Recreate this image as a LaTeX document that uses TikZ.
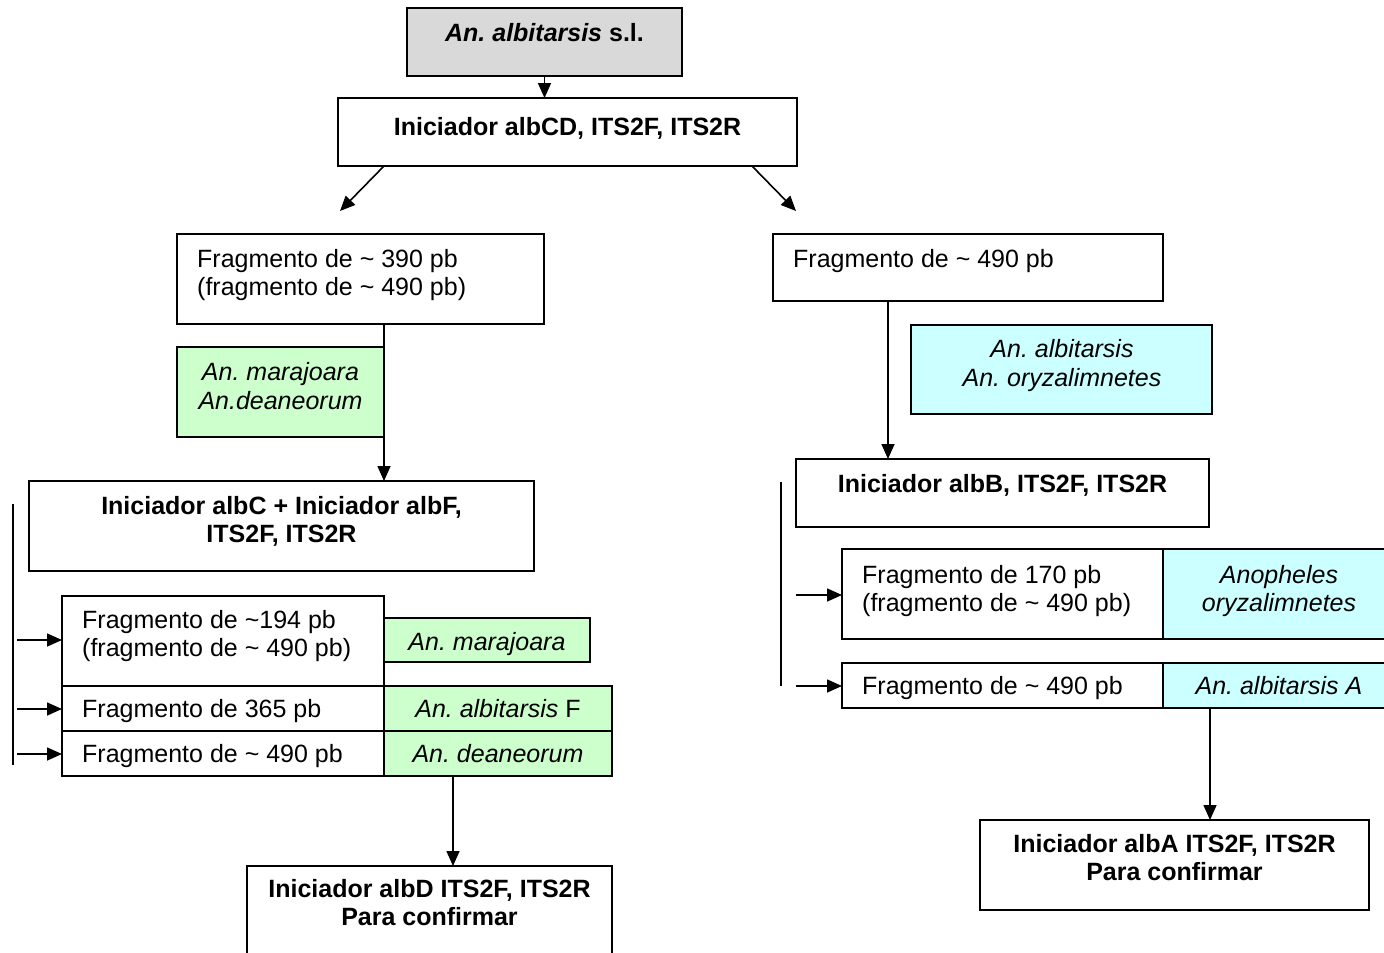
\documentclass[tikz,border=0pt]{standalone}
\usepackage{fontspec}
\setmainfont{Liberation Sans}
\usetikzlibrary{arrows.meta}
\definecolor{grayc}{HTML}{D9D9D9}
\definecolor{greenc}{HTML}{CCFFCC}
\definecolor{cyanc}{HTML}{CCFFFF}
\frenchspacing
\begin{document}
\begin{tikzpicture}[x=1pt,y=-1pt,
 box/.style={draw, line width=1.6pt, inner sep=0pt, outer sep=0pt, anchor=north west},
 t/.style={font=\fontsize{25}{28.5}\selectfont, inner sep=0pt, anchor=base},
 tl/.style={t, anchor=base west},
 arr/.style={line width=1.6pt, -{Triangle[length=15pt,width=13pt]}},
 ln/.style={line width=1.6pt}]
\useasboundingbox (0,0) rectangle (1384,953);
% left branch boxes
\node[box, fill=grayc, minimum width=275pt, minimum height=68pt] (top) at (407,8) {};
\node[box, minimum width=459pt, minimum height=68pt] (ini) at (338,98) {};
\node[box, minimum width=367pt, minimum height=90pt] (l1) at (177,234) {};
\node[box, fill=greenc, minimum width=207pt, minimum height=90pt] (g1) at (177,347) {};
\node[box, minimum width=505pt, minimum height=90pt] (l2) at (29,481) {};
\node[box, minimum width=322pt, minimum height=90pt] (l3) at (62,596) {};
\node[box, fill=greenc, minimum width=206pt, minimum height=44pt] (g2) at (384,618) {};
\node[box, minimum width=322pt, minimum height=45pt] (l4) at (62,686) {};
\node[box, fill=greenc, minimum width=228pt, minimum height=45pt] (g3) at (384,686) {};
\node[box, minimum width=322pt, minimum height=45pt] (l5) at (62,731) {};
\node[box, fill=greenc, minimum width=228pt, minimum height=45pt] (g4) at (384,731) {};
\node[box, minimum width=365pt, minimum height=110pt] (l6) at (247,866) {};
% right branch boxes
\node[box, minimum width=390pt, minimum height=67pt] (r1) at (773,234) {};
\node[box, fill=cyanc, minimum width=301pt, minimum height=89pt] (c1) at (911,325) {};
\node[box, minimum width=413pt, minimum height=68pt] (r2) at (796,459) {};
\node[box, minimum width=321pt, minimum height=90pt] (r3) at (842,549) {};
\node[box, fill=cyanc, minimum width=232pt, minimum height=90pt] (c2) at (1163,549) {};
\node[box, minimum width=321pt, minimum height=45pt] (r4) at (842,663) {};
\node[box, fill=cyanc, minimum width=232pt, minimum height=45pt] (c3) at (1163,663) {};
\node[box, minimum width=389pt, minimum height=90pt] (r5) at (980,820) {};
% connectors
\draw[arr] (top.south) -- (top.south |- ini.north);
\coordinate (dL) at (340,211);
\coordinate (dR) at (796,211);
\draw[arr] ([xshift=46pt]ini.south west) -- (dL);
\draw[arr] ([xshift=-45pt]ini.south east) -- (dR);
\draw[arr] (g1.east |- l1.south) -- (g1.east |- l2.north);
\coordinate (bt) at (13,504);
\coordinate (bb) at (13,765);
\draw[ln] (bt) -- (bb);
\coordinate (a1) at (17,640);
\coordinate (a2) at (17,709);
\coordinate (a3) at (17,754);
\draw[arr] (a1) -- (a1 -| l3.west);
\draw[arr] (a2) -- (a2 -| l4.west);
\draw[arr] (a3) -- (a3 -| l5.west);
\draw[arr] ([xshift=69pt]g4.south west) -- ([xshift=69pt]g4.south west |- l6.north);
\draw[arr] ([xshift=115pt]r1.south west) -- ([xshift=115pt]r1.south west |- r2.north);
\coordinate (rt) at (781,482);
\coordinate (rb) at (781,686);
\draw[ln] (rt) -- (rb);
\coordinate (b1) at (796,595);
\coordinate (b2) at (796,686);
\draw[arr] (b1) -- (b1 -| r3.west);
\draw[arr] (b2) -- (b2 -| r4.west);
\draw[arr] ([xshift=47pt]c3.south west) -- ([xshift=47pt]c3.south west |- r5.north);
% texts
\node[t] (ttop) at (544.5,41) {\textbf{\textit{An. albitarsis} s.l.}};
\node[t] (tini) at (567.5,135) {\textbf{Iniciador albCD, ITS2F, ITS2R}};
\node[tl] (tl1a) at (197,267) {Fragmento de \textasciitilde{} 390 pb};
\node[tl] (tl1b) at (197,295) {(fragmento de \textasciitilde{} 490 pb)};
\node[t] (tg1a) at (280.5,380) {\textit{An. marajoara}};
\node[t] (tg1b) at (280.5,409) {\textit{An.deaneorum}};
\node[t] (tl2a) at (281.5,514) {\textbf{Iniciador albC + Iniciador albF,}};
\node[t] (tl2b) at (281.5,542) {\textbf{ITS2F, ITS2R}};
\node[tl] (tl3a) at (82,628) {Fragmento de \textasciitilde194 pb};
\node[tl] (tl3b) at (82,656) {(fragmento de \textasciitilde{} 490 pb)};
\node[t] (tg2) at (487,650) {\textit{An. marajoara}};
\node[tl] (tl4) at (82,717) {Fragmento de 365 pb};
\node[t] (tg3) at (498,717) {\textit{An. albitarsis} F};
\node[tl] (tl5) at (82,762) {Fragmento de \textasciitilde{} 490 pb};
\node[t] (tg4) at (498,762) {\textit{An. deaneorum}};
\node[t] (tl6a) at (429.5,897) {\textbf{Iniciador albD ITS2F, ITS2R}};
\node[t] (tl6b) at (429.5,925) {\textbf{Para confirmar}};
\node[tl] (tr1) at (793,267) {Fragmento de \textasciitilde{} 490 pb};
\node[t] (tc1a) at (1062,357) {\textit{An. albitarsis}};
\node[t] (tc1b) at (1062,386) {\textit{An. oryzalimnetes}};
\node[t] (tr2) at (1002.5,492) {\textbf{Iniciador albB, ITS2F, ITS2R}};
\node[tl] (tr3a) at (862,583) {Fragmento de 170 pb};
\node[tl] (tr3b) at (862,611) {(fragmento de \textasciitilde{} 490 pb)};
\node[t] (tc2a) at (1279,583) {\textit{Anopheles}};
\node[t] (tc2b) at (1279,611) {\textit{oryzalimnetes}};
\node[tl] (tr4) at (862,694) {Fragmento de \textasciitilde{} 490 pb};
\node[t] (tc3) at (1279,694) {\textit{An. albitarsis A}};
\node[t] (tr5a) at (1174.5,852) {\textbf{Iniciador albA ITS2F, ITS2R}};
\node[t] (tr5b) at (1174.5,880) {\textbf{Para confirmar}};
\end{tikzpicture}
\end{document}
